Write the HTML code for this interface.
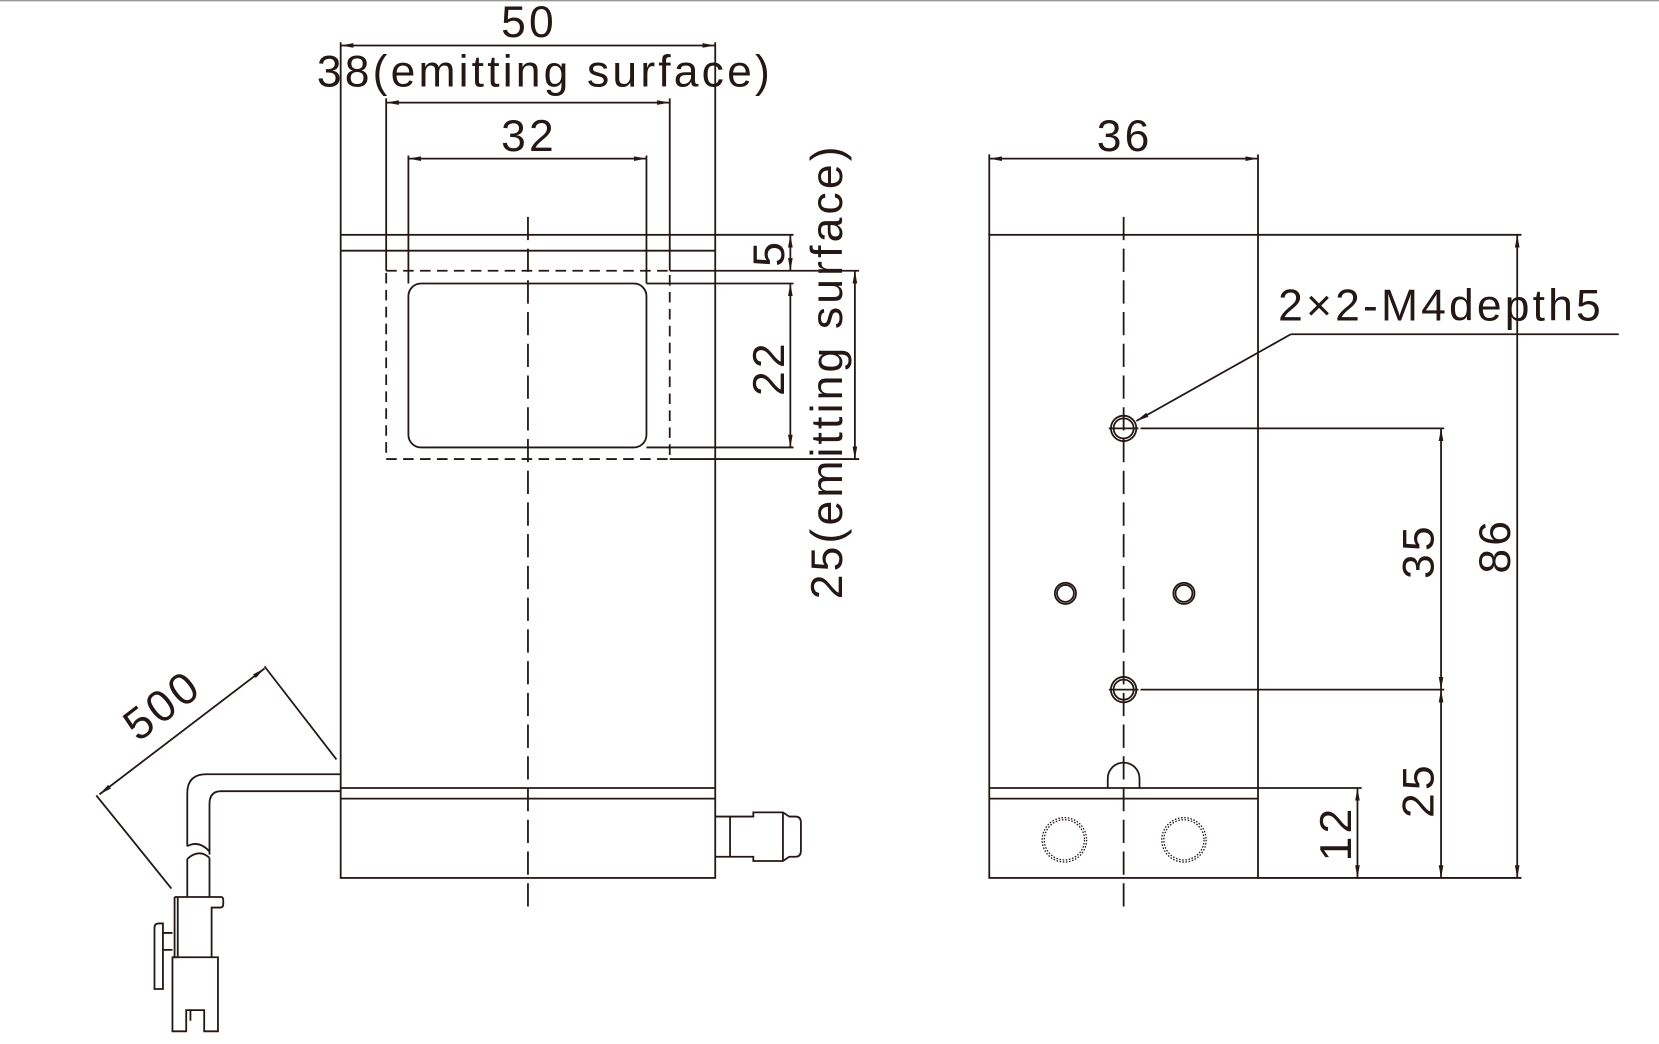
<!DOCTYPE html>
<html><head><meta charset="utf-8"><style>
html,body{margin:0;padding:0;background:#fff;}
svg{display:block;}
text{font-family:"Liberation Sans",Arial,sans-serif;fill:#231815;letter-spacing:3px;}
</style></head><body>
<svg width="1659" height="1044" viewBox="0 0 1568 987" preserveAspectRatio="none" xmlns="http://www.w3.org/2000/svg">
<defs>
<marker id="a" viewBox="0 0 12 6" refX="12" refY="3" markerWidth="12" markerHeight="6" orient="auto-start-reverse" markerUnits="userSpaceOnUse"><path d="M0,0.8 L12,3 L0,5.2z" fill="#231815"/></marker>
</defs>
<line x1="0" y1="0.5" x2="1568" y2="0.5" stroke="#999" stroke-width="1.5"/>
<g stroke="#231815" stroke-width="1.7" fill="none">
<rect x="322" y="222" width="354" height="608"/>
<line x1="322" y1="237" x2="676" y2="237"/>
<line x1="322" y1="745" x2="676" y2="745"/>
<line x1="322" y1="755" x2="676" y2="755"/>
<rect x="365" y="256" width="268" height="178" stroke-dasharray="10,6"/>
<rect x="386" y="268" width="225" height="155" rx="12"/>
<line x1="499" y1="205" x2="499" y2="860" stroke-dasharray="22,8"/>
<line x1="322" y1="222" x2="322" y2="40"/><line x1="676" y1="222" x2="676" y2="40"/>
<line x1="322" y1="43" x2="676" y2="43" marker-start="url(#a)" marker-end="url(#a)"/>
<line x1="365" y1="256" x2="365" y2="93"/><line x1="633" y1="256" x2="633" y2="93"/>
<line x1="365" y1="97" x2="633" y2="97" marker-start="url(#a)" marker-end="url(#a)"/>
<line x1="386" y1="268" x2="386" y2="147"/><line x1="611" y1="268" x2="611" y2="147"/>
<line x1="386" y1="150" x2="611" y2="150" marker-start="url(#a)" marker-end="url(#a)"/>
<line x1="676" y1="222" x2="750" y2="222"/>
<line x1="633" y1="256" x2="812" y2="256"/>
<line x1="611" y1="268" x2="750" y2="268"/>
<line x1="611" y1="423" x2="750" y2="423"/>
<line x1="633" y1="434" x2="812" y2="434"/>
<line x1="747" y1="222" x2="747" y2="256" marker-start="url(#a)" marker-end="url(#a)"/>
<line x1="747" y1="268" x2="747" y2="423" marker-start="url(#a)" marker-end="url(#a)"/>
<line x1="808" y1="256" x2="808" y2="434" marker-start="url(#a)" marker-end="url(#a)"/>
<path d="M676,772 L712,772 L712,768 L740,768 L746,772 L752,772 Q757,772 757,778 L757,804 Q757,810 752,810 L746,810 L740,814 L712,814 L712,810 L676,810"/>
<line x1="690" y1="772" x2="690" y2="810"/>
<line x1="740" y1="768" x2="740" y2="814"/>
<path d="M322,732 L195,732 Q177,732 177,750 L177,800"/>
<path d="M322,748 L209,748 Q198,748 198,760 L198,808"/>
<path d="M177,800 Q188,794 198,805"/>
<path d="M177,812 Q188,802 198,811"/>
<line x1="177" y1="812" x2="177" y2="848"/><line x1="198" y1="811" x2="198" y2="848"/>
<path d="M165,848 L209,848 Q211,848 211,851 L211,855 Q211,858 208,858 L200,858 L200,905 L206,905 L206,975 L193,975 L193,955 L176,955 L176,975 L163,975 L163,905 L168,905 L168,848"/>
<path d="M165,848 L165,905"/>
<path d="M163,905 L200,905"/>
<path d="M154,882 L163,882 M154,898 L163,898"/>
<path d="M146,935 L146,877 Q146,873 150,873 L154,873 L154,935 Z"/>
<line x1="180" y1="955" x2="180" y2="965"/>
<line x1="250" y1="630" x2="318" y2="718"/>
<line x1="91" y1="752" x2="162" y2="840"/>
<line x1="94" y1="751" x2="250" y2="632" marker-start="url(#a)" marker-end="url(#a)"/>
<rect x="935" y="222" width="254" height="608"/>
<line x1="935" y1="745" x2="1189" y2="745"/>
<line x1="935" y1="755" x2="1189" y2="755"/>
<line x1="1062" y1="205" x2="1062" y2="860" stroke-dasharray="22,8"/>
<circle cx="1062" cy="405" r="12"/><circle cx="1062" cy="405" r="9.5"/>
<line x1="1048" y1="405" x2="1076" y2="405"/>
<circle cx="1062" cy="652" r="12"/><circle cx="1062" cy="652" r="9.5"/>
<line x1="1048" y1="652" x2="1076" y2="652"/>
<circle cx="1007" cy="561" r="10"/><circle cx="1007" cy="561" r="8"/>
<circle cx="1119" cy="561" r="10"/><circle cx="1119" cy="561" r="8"/>
<circle cx="1006" cy="794" r="21" stroke-dasharray="1.5,1.5" stroke-width="1.2"/>
<circle cx="1006" cy="794" r="19" stroke-dasharray="1.5,1.5" stroke-width="1.2"/>
<circle cx="1119" cy="794" r="21" stroke-dasharray="1.5,1.5" stroke-width="1.2"/>
<circle cx="1119" cy="794" r="19" stroke-dasharray="1.5,1.5" stroke-width="1.2"/>
<path d="M1047,745 L1047,736 A15,15 0 0 1 1077,736 L1077,745"/>
<line x1="935" y1="222" x2="935" y2="146"/><line x1="1189" y1="222" x2="1189" y2="146"/>
<line x1="935" y1="150" x2="1189" y2="150" marker-start="url(#a)" marker-end="url(#a)"/>
<line x1="1189" y1="222" x2="1438" y2="222"/><line x1="1189" y1="830" x2="1438" y2="830"/>
<line x1="1434" y1="222" x2="1434" y2="830" marker-start="url(#a)" marker-end="url(#a)"/>
<line x1="1078" y1="405" x2="1365" y2="405"/><line x1="1078" y1="652" x2="1365" y2="652"/>
<line x1="1362" y1="405" x2="1362" y2="652" marker-start="url(#a)" marker-end="url(#a)"/>
<line x1="1362" y1="652" x2="1362" y2="830" marker-start="url(#a)" marker-end="url(#a)"/>
<line x1="1189" y1="745" x2="1287" y2="745"/>
<line x1="1283" y1="745" x2="1283" y2="830" marker-start="url(#a)" marker-end="url(#a)"/>
<line x1="1220" y1="316" x2="1530" y2="316"/>
<line x1="1220" y1="316" x2="1074" y2="398" marker-end="url(#a)"/>
</g>
<g font-size="42">
<text x="500" y="35" text-anchor="middle">50</text>
<text x="515" y="82" text-anchor="middle">38(emitting surface)</text>
<text x="500" y="143" text-anchor="middle">32</text>
<text x="1063" y="143" text-anchor="middle">36</text>
<text x="1208" y="303">2×2-M4depth5</text>
<text transform="translate(741,239) rotate(-90)" text-anchor="middle">5</text>
<text transform="translate(741,348) rotate(-90)" text-anchor="middle">22</text>
<text transform="translate(796,351) rotate(-90)" text-anchor="middle">25(emitting surface)</text>
<text transform="translate(1355,521) rotate(-90)" text-anchor="middle">35</text>
<text transform="translate(1355,747) rotate(-90)" text-anchor="middle">25</text>
<text transform="translate(1277,788) rotate(-90)" text-anchor="middle">12</text>
<text transform="translate(1427,516) rotate(-90)" text-anchor="middle">86</text>
<text transform="translate(162,678) rotate(-37.5)" text-anchor="middle">500</text>
</g>
</svg>
</body></html>
